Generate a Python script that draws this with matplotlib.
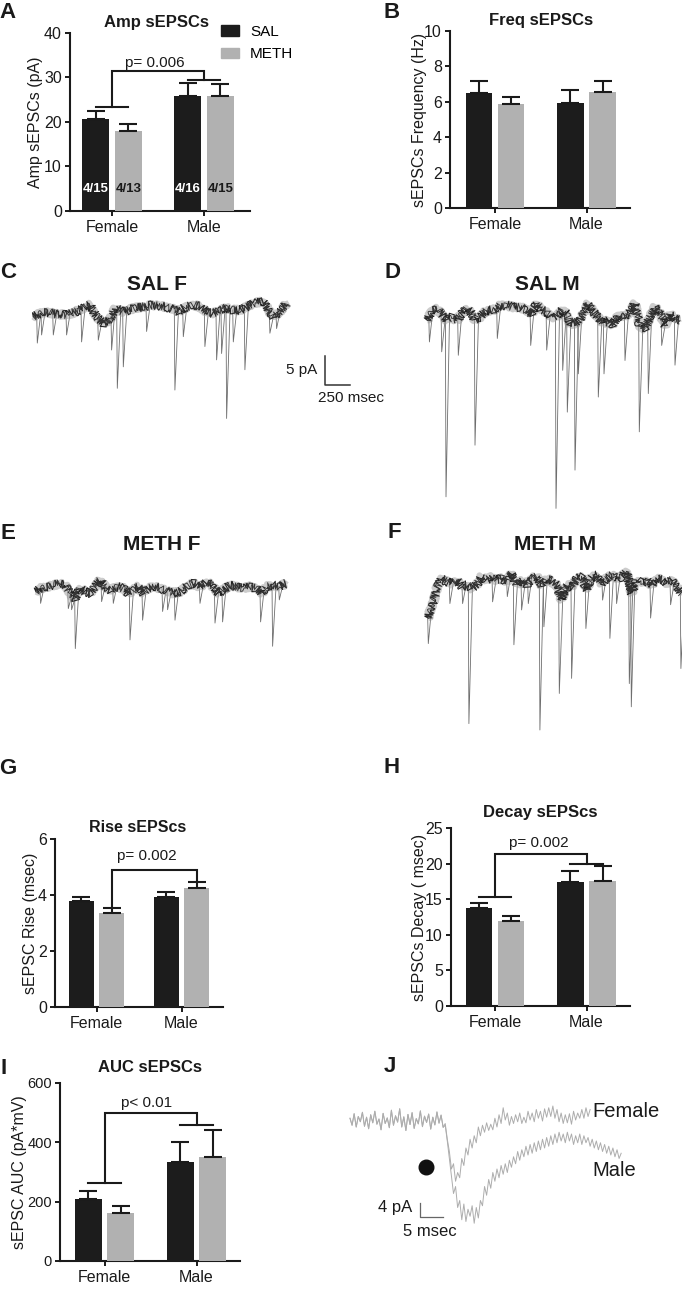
import numpy as np
import matplotlib
matplotlib.use('Agg')
import matplotlib.pyplot as plt
from matplotlib.patches import Patch

plt.rcParams['font.family'] = ['Liberation Sans', 'DejaVu Sans']

W, H = 682, 1289
fig = plt.figure(figsize=(W / 100, H / 100), dpi=100)

# ---------------- data ----------------
groups = ['Female', 'Male']

amp_sal = [20.7, 25.9]
amp_sal_sem = [1.75, 2.8]
amp_meth = [18.0, 25.9]
amp_meth_sem = [1.5, 2.7]
amp_n_sal = ['4/15', '4/16']
amp_n_meth = ['4/13', '4/15']

freq_sal = [6.47, 5.93]
freq_sal_sem = [0.70, 0.73]
freq_meth = [5.85, 6.53]
freq_meth_sem = [0.44, 0.62]

rise_sal = [3.77, 3.93]
rise_sal_sem = [0.15, 0.17]
rise_meth = [3.35, 4.25]
rise_meth_sem = [0.17, 0.22]

decay_sal = [13.7, 17.37]
decay_sal_sem = [0.76, 1.63]
decay_meth = [11.88, 17.5]
decay_meth_sem = [0.80, 2.1]

auc_sal = [207.5, 334.0]
auc_sal_sem = [27.0, 66.0]
auc_meth = [162.0, 351.0]
auc_meth_sem = [24.0, 90.0]

# traces: baseline (ms, pA) and events (ms, peak pA)
C_base_t = [0, 100, 200, 333, 466, 566, 633, 700, 766, 816, 900, 1000, 1100, 1200, 1300, 1400, 1450,
            1500, 1600, 1666, 1733, 1800, 1866, 1933, 2000, 2066, 2133, 2200, 2300, 2350, 2400, 2466, 2533]
C_base_pa = [-1.15, -0.29, -0.57, -0.86, 0, 0.86, -1.15, -2.3, -1.72, 0.29, -0.29, 0.29, 0.57, 0.86, 0.57,
             0.29, -0.29, 0.29, 0.86, 0.57, -0.29, -0.57, 0, 0.29, 0, 0, 0.57, 1.15, 1.44, 0, -1.15, -0.29, 1.15]
C_ev_t = [40, 83, 200, 333, 483, 650, 783, 840, 900, 1133, 1416, 1500, 1716, 1833, 1883, 1933, 2000, 2116, 2366, 2433]
C_ev_pa = [-5.7, -4.3, -4.3, -4.3, -5.5, -5.2, -6.9, -13.5, -9.8, -3.7, -13.8, -4.6, -6.3, -8.6, -7.5,
           -18.7, -5.5, -10.3, -4.0, -3.2]

D_base_t = [7, 50, 100, 150, 200, 250, 300, 350, 400, 450, 483, 533, 600, 666, 733, 800, 866, 933, 1000,
            1050, 1100, 1150, 1200, 1250, 1300, 1350, 1400, 1433, 1466, 1516, 1566, 1616, 1666, 1716, 1766,
            1816, 1866, 1916, 1966, 2016, 2083, 2133, 2183, 2233, 2283, 2333, 2383, 2433, 2483, 2533]
D_base_pa = [-0.57, 1.15, 1.44, 0.57, -0.57, 0, -0.57, 0.57, 1.44, 0.57, -0.57, 0, 1.15, 1.15, 2.0, 2.0,
             1.72, 1.72, 1.15, 0.57, 2.3, 1.15, 0.86, 0, 0, 1.15, 0.57, -1.15, -1.15, -0.86, 0.57, 2.3, 0.86,
             0, -1.15, -0.57, -1.44, 0.29, 0, 0.57, 2.3, -1.72, -2.0, 0, 1.72, 0.57, -1.44, 0.57, -0.29, -0.57]
D_ev_t = [27, 150, 193, 316, 483, 706, 1040, 1200, 1293, 1360, 1406, 1483, 1516, 1716, 1773, 1983, 2126,
          2216, 2350, 2483]
D_ev_pa = [-4.3, -6.0, -31.0, -6.6, -22.1, -3.7, -4.9, -5.7, -33.0, -9.2, -16.4, -26.4, -9.8, -13.8, -9.8,
           -7.5, -19.8, -13.2, -4.9, -8.3]

E_base_t = [10, 50, 116, 183, 250, 300, 350, 400, 450, 500, 550, 600, 650, 700, 750, 816, 883, 933, 983,
            1033, 1083, 1133, 1183, 1250, 1316, 1383, 1450, 1516, 1583, 1650, 1716, 1783, 1833, 1883, 1950,
            2016, 2083, 2150, 2216, 2266, 2316, 2383, 2450, 2510]
E_base_pa = [-0.29, 0.29, 0.57, 0.86, 1.15, 0.86, -0.57, -1.44, 0.29, -0.29, -0.57, 0.57, 1.72, 0.57, 0,
             0.57, 0.29, -0.57, 0, 0.57, -0.57, 0.29, 0.57, 0.29, 0, -0.57, -0.29, 0.57, 1.15, 0.57, 1.44,
             0.57, -0.57, 0, 0.86, 0.57, 0.29, 0.57, 0.29, -0.57, 0.57, 0.86, 0.57, 1.15]
E_ev_t = [56, 333, 366, 403, 666, 783, 950, 1076, 1276, 1326, 1400, 1650, 1800, 1876, 2256, 2376, 2443]
E_ev_pa = [-2.3, -3.2, -3.4, -10.1, -2.0, -2.3, -8.6, -5.2, -3.7, -3.4, -5.2, -2.3, -5.7, -5.5, -5.5, -9.7, -1.7]

F_base_t = [0, 23, 50, 83, 133, 183, 233, 283, 333, 383, 433, 483, 533, 583, 633, 683, 733, 783, 833, 883,
            933, 983, 1033, 1083, 1133, 1183, 1233, 1283, 1333, 1383, 1433, 1483, 1533, 1583, 1633, 1683,
            1733, 1783, 1833, 1883, 1933, 1983, 2033, 2083, 2133, 2183, 2233, 2283, 2333, 2383, 2433, 2483, 2533]
F_base_pa = [-5.7, -4.0, -2.9, -0.57, 1.15, 0.57, 0.29, 0.86, -0.29, 0, -0.57, 0, 1.44, 0.86, 1.44, 0.86,
             1.15, 0.57, 2.0, 0, 0.86, 0, 1.15, 1.44, 0, 1.15, 0.57, 0, -2.6, 0, -0.29, 1.15, 1.44, -0.86,
             1.44, 1.72, 0.29, 1.15, 1.72, 1.15, 1.44, 2.3, -1.44, 0.86, 0.29, 0.86, 0, 1.15, 0.86, 0.29,
             0.86, -0.29, -1.44]
F_ev_t = [0, 216, 343, 406, 643, 790, 856, 933, 1000, 1116, 1156, 1310, 1433, 1576, 1743, 1816, 1883, 2010,
          2030, 2223, 2423, 2526]
F_ev_pa = [-10.1, -3.2, -3.2, -23.9, -2.9, -2.0, -10.3, -4.3, -3.2, -25.0, -7.2, -18.7, -16.1, -7.5, -2.6,
           -9.2, -3.2, -17.0, -21.0, -5.7, -3.4, -14.4]

# average sEPSC traces (panel J), sampled every 0.45 ms
J_dt = 0.45
J_pre = [0.5, -1.5, 1.8, -2.0, 1.0, -0.5, 2.2, -1.8, 0.8, -2.5, 1.5, -0.8, 2.5, -1.2, 0.3, -2.8, 1.9, -1.0,
         0.6, -2.2, 2.8, -1.5, 1.2, -0.6, 3.2, -2.0, 0.9, -3.0, 1.6, -1.3, 2.1, -2.4, 0.4, -1.1, 2.6, -1.9,
         1.1, -0.7, 1.7, -2.6, 0.8, -1.4, 2.3, -0.9, 1.4, -2.1]
J_female = [-1.0, -5.5, -9.0, -14.0, -12.5, -17.5, -15.0, -16.5, -11.0, -13.0, -8.0, -10.0, -5.5, -8.0, -4.5,
            -6.5, -2.0, -4.5, -1.5, -3.5, -0.8, -3.0, -1.2, -2.8, 0.5, -2.0, 1.5, -1.0, 3.5, 0.0, 2.0, -1.5,
            1.0, -1.0, 1.5, -0.5, 2.0, -1.0, 0.8, -0.8, 2.5, 0.0, 2.0, -0.5, 3.0, 0.5, 2.5, -0.3, 3.2, 0.8,
            3.5, 1.0, 4.0, 0.5, 3.0, -0.5, 2.0, -1.0, 1.5, -0.8, 1.8, -1.2, 2.5, 0.0, 2.0, 0.5, 3.0, 0.5,
            3.5, 1.0, 3.0]
J_male = [-1.5, -6.0, -11.0, -16.0, -21.0, -19.0, -25.0, -23.0, -28.5, -24.0, -29.0, -25.5, -27.5, -24.5,
          -29.5, -25.0, -28.0, -23.0, -24.5, -19.0, -21.5, -17.0, -19.5, -15.0, -17.5, -14.0, -16.5, -13.0,
          -15.5, -12.5, -15.0, -11.5, -13.5, -10.5, -12.5, -9.0, -11.5, -8.5, -10.5, -7.5, -10.0, -7.0, -9.5,
          -6.5, -9.0, -6.0, -8.5, -5.5, -8.0, -5.0, -7.5, -4.5, -7.0, -4.0, -6.5, -3.5, -6.0, -4.0, -6.5,
          -3.5, -6.0, -4.0, -7.0, -4.5, -6.5, -4.0, -7.0, -4.5, -6.5, -5.0, -7.5, -5.5, -8.0, -6.0, -8.5,
          -6.5, -9.0, -7.0, -9.5, -7.5, -10.0, -8.0, -10.5, -8.5, -11.0, -9.5]

# ---------------- style ----------------
SAL_C = '#1c1c1c'
METH_C = '#b1b1b1'
INK = '#1a1a1a'
OFF = 0.177
BW = 0.29
FS = 11.5


def fx(x):
    return x / W


def fy(y):
    return 1 - y / H


def bar_panel(box, fpx, mpx, ymax, yticks, sal, sal_sem, meth, meth_sem, ylabel, ylab_x, tick_fs=FS):
    left, right, top, bottom = box
    ax = fig.add_axes([fx(left), fy(bottom), (right - left) / W, (bottom - top) / H])
    unit = mpx - fpx
    ax.set_xlim((left - fpx) / unit, (right - fpx) / unit)
    ax.set_ylim(0, ymax)
    x = np.arange(len(groups))
    ax.bar(x - OFF, sal, BW, color=SAL_C, zorder=3)
    ax.bar(x + OFF, meth, BW, color=METH_C, zorder=3)
    for xs, v, e in ((x - OFF, sal, sal_sem), (x + OFF, meth, meth_sem)):
        ax.errorbar(xs, v, yerr=[np.zeros(len(v)), e], fmt='none', ecolor=INK,
                    elinewidth=1.5, capsize=6.5, capthick=1.5, zorder=4)
    for s in ('top', 'right'):
        ax.spines[s].set_visible(False)
    for s in ('left', 'bottom'):
        ax.spines[s].set_linewidth(1.5)
        ax.spines[s].set_color(INK)
    ax.set_xticks(x, groups)
    ax.set_yticks(yticks)
    ax.tick_params(axis='both', direction='out', length=3.8, width=1.4, labelsize=FS,
                   colors=INK, pad=2)
    ax.tick_params(axis='y', labelsize=tick_fs)
    ax.tick_params(axis='x', pad=3)
    ax.set_ylabel(ylabel, fontsize=FS, color=INK)
    ax.yaxis.set_label_coords((ylab_x - left) / (right - left), 0.5)
    ax.patch.set_alpha(0)
    return ax


def bracket(ax, xs, ys):
    ax.plot(xs, ys, color=INK, lw=1.5, clip_on=False, solid_joinstyle='miter', zorder=5)


def letter(x, y, s):
    fig.text(fx(x), fy(y), s, fontsize=16, fontweight='bold', ha='center', va='center', color=INK)


def title(x, y, s, size=12):
    fig.text(fx(x), fy(y), s, fontsize=size, fontweight='bold', ha='center', va='center', color=INK)


# ---------------- A ----------------
axA = bar_panel((70, 250, 33, 211), 112, 204, 40, [0, 10, 20, 30, 40],
                amp_sal, amp_sal_sem, amp_meth, amp_meth_sem, 'Amp sEPSCs (pA)', 43)
for i in range(2):
    axA.text(i - OFF, 5.0, amp_n_sal[i], color='white', fontsize=9.5, fontweight='bold',
             ha='center', va='center', zorder=6)
    axA.text(i + OFF, 5.0, amp_n_meth[i], color=INK, fontsize=9.5, fontweight='bold',
             ha='center', va='center', zorder=6)
bracket(axA, [-OFF, OFF], [23.3, 23.3])
bracket(axA, [1 - OFF, 1 + OFF], [29.5, 29.5])
bracket(axA, [0, 0, 1, 1], [23.3, 31.4, 31.4, 29.5])
axA.text(0.47, 33.3, 'p= 0.006', fontsize=11, ha='center', va='center', color=INK)
fig.legend(handles=[Patch(color=SAL_C), Patch(color=METH_C)], labels=['SAL', 'METH'],
           loc='upper left', bbox_to_anchor=(fx(221), fy(25)), frameon=False, fontsize=11,
           handlelength=1.15, handleheight=0.7, handletextpad=0.75, labelspacing=0.55,
           borderaxespad=0, borderpad=0)
title(157, 22, 'Amp sEPSCs')
letter(8, 12, 'A')

# ---------------- B ----------------
bar_panel((450, 630, 31, 208), 495, 586.5, 10, [0, 2, 4, 6, 8, 10],
          freq_sal, freq_sal_sem, freq_meth, freq_meth_sem, 'sEPSCs Frequency (Hz)', 427)
title(541, 20, 'Freq sEPSCs')
letter(392, 12, 'B')

# ---------------- G ----------------
axG = bar_panel((55, 223, 839, 1007), 96.5, 181.5, 6, [0, 2, 4, 6],
                rise_sal, rise_sal_sem, rise_meth, rise_meth_sem, 'sEPSC Rise (msec)', 38)
bracket(axG, [OFF, OFF, 1 + OFF, 1 + OFF], [3.56, 4.91, 4.91, 4.47])
axG.text(0.59, 5.39, 'p= 0.002', fontsize=11, ha='center', va='center', color=INK)
title(138, 827, 'Rise sEPScs', 11.5)
letter(8, 768, 'G')

# ---------------- H ----------------
axH = bar_panel((451, 630, 828, 1006), 495, 586.5, 25, [0, 5, 10, 15, 20, 25],
                decay_sal, decay_sal_sem, decay_meth, decay_meth_sem, 'sEPSCs Decay ( msec)', 427)
bracket(axH, [-OFF, OFF], [15.26, 15.26])
bracket(axH, [1 - OFF, 1 + OFF], [20.0, 20.0])
bracket(axH, [0, 0, 1, 1], [15.26, 21.4, 21.4, 20.0])
axH.text(0.48, 22.96, 'p= 0.002', fontsize=11, ha='center', va='center', color=INK)
title(540, 813, 'Decay sEPScs')
letter(392, 767, 'H')

# ---------------- I ----------------
axI = bar_panel((60, 240, 1083, 1261), 104.5, 196.5, 600, [0, 200, 400, 600],
                auc_sal, auc_sal_sem, auc_meth, auc_meth_sem, 'sEPSC AUC (pA*mV)', 27, tick_fs=10.5)
bracket(axI, [-OFF, OFF], [261.7, 261.7])
bracket(axI, [1 - OFF, 1 + OFF], [458, 458])
bracket(axI, [0, 0, 1, 1], [261.7, 498.5, 498.5, 458])
axI.text(0.46, 532, 'p< 0.01', fontsize=11, ha='center', va='center', color=INK)
title(150, 1068, 'AUC sEPSCs')
letter(4, 1068, 'I')

# ---------------- traces C-F ----------------
MS_PX = 10.0
PA_PX = 5.0 / 29.0


def trace_axes(box, t0_px, zero_px, ms_px, pa_px):
    x0, x1, y0, y1 = box
    ax = fig.add_axes([fx(x0), fy(y1), (x1 - x0) / W, (y1 - y0) / H])
    ax.set_xlim((x0 - t0_px) * ms_px, (x1 - t0_px) * ms_px)
    ax.set_ylim(-(y1 - zero_px) * pa_px, -(y0 - zero_px) * pa_px)
    ax.axis('off')
    return ax


def draw_trace(ax, bt, bp, et, ep):
    for t, a in zip(et, ep):
        b0 = np.interp(t - 6, bt, bp)
        b1 = np.interp(t + 35, bt, bp)
        ax.plot([t - 6, t, t + 35], [b0, a, b1], color='#6e6e6e', lw=0.6)
    l1, = ax.plot(bt, bp, color='#9a9a9a', lw=4.4, alpha=0.5, solid_capstyle='butt')
    l1.set_sketch_params(2.5, 3.0, 2.0)
    l2, = ax.plot(bt, bp, color='#222222', lw=0.75)
    l2.set_sketch_params(4.5, 1.0, 1.5)
    l3, = ax.plot(bt, bp, color='#333333', lw=0.65)
    l3.set_sketch_params(4.0, 1.4, 2.5)


axC = trace_axes((28, 420, 275, 440), 33.3, 310, MS_PX, PA_PX)
draw_trace(axC, C_base_t, C_base_pa, C_ev_t, C_ev_pa)
sb_ms, sb_pa = 250, 5
sb_t, sb_y = 2917, -12.93
axC.plot([sb_t, sb_t, sb_t + sb_ms], [sb_y + sb_pa, sb_y, sb_y], color='#333333', lw=1.1)
axC.text(sb_t - 80, sb_y + 2.6, '5 pA', fontsize=11, ha='right', va='center', color=INK)
axC.text(sb_t - 70, sb_y - 2.3, '250 msec', fontsize=11, ha='left', va='center', color=INK)
title(157, 284, 'SAL F', 15)
letter(8, 272, 'C')

axD = trace_axes((420, 682, 275, 525), 426.7, 317, MS_PX, PA_PX)
draw_trace(axD, D_base_t, D_base_pa, D_ev_t, D_ev_pa)
title(547, 285, 'SAL M', 15)
letter(392, 272, 'D')

axE = trace_axes((28, 340, 560, 665), 35, 590, MS_PX, PA_PX)
draw_trace(axE, E_base_t, E_base_pa, E_ev_t, E_ev_pa)
title(162, 545, 'METH F', 15)
letter(8, 533, 'E')

axF = trace_axes((420, 682, 560, 745), 428.3, 585, MS_PX, PA_PX)
draw_trace(axF, F_base_t, F_base_pa, F_ev_t, F_ev_pa)
title(555, 545, 'METH M', 15)
letter(394, 532, 'F')

# ---------------- J ----------------
axJ = trace_axes((340, 682, 1080, 1250), 350, 1120, 1 / 4.6, 4 / 14.0)
pre_t = np.arange(len(J_pre)) * J_dt
post_t0 = len(J_pre) * J_dt
fem_t = post_t0 + np.arange(len(J_female)) * J_dt
male_t = post_t0 + np.arange(len(J_male)) * J_dt
axJ.plot(np.r_[pre_t, male_t], np.r_[J_pre, J_male], color='#adadad', lw=0.7)
axJ.plot(np.r_[pre_t, fem_t], np.r_[J_pre, J_female], color='#adadad', lw=0.7)
axJ.plot([16.5], [-13.4], 'o', color='#111111', ms=10.5)
jsb_t, jsb_y = 15.2, -27.7
axJ.plot([jsb_t, jsb_t, jsb_t + 5], [jsb_y + 4, jsb_y, jsb_y], color='#666666', lw=0.9)
axJ.text(13.5, -25.1, '4 pA', fontsize=12, ha='right', va='center', color=INK)
axJ.text(17.4, -32.0, '5 msec', fontsize=12, ha='center', va='center', color=INK)
axJ.text(52.6, 2.3, 'Female', fontsize=14.5, ha='left', va='center', color=INK)
axJ.text(52.6, -14.3, 'Male', fontsize=14.5, ha='left', va='center', color=INK)
letter(390, 1067, 'J')

fig.savefig('out.png', dpi=100)
